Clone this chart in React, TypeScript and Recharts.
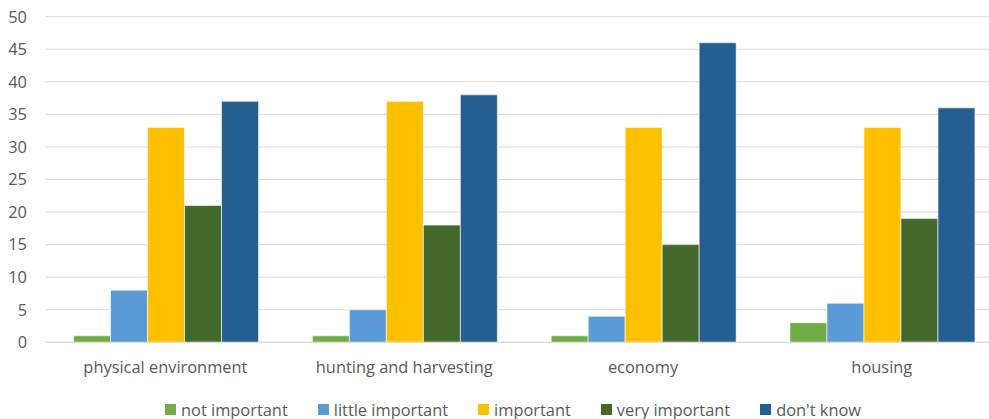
import React from "react";
import { BarChart, Bar, XAxis, YAxis, CartesianGrid, Legend } from "recharts";

const categories = ["physical environment", "hunting and harvesting", "economy", "housing"];
const notImportant = [1, 1, 1, 3];
const littleImportant = [8, 5, 4, 6];
const important = [33, 37, 33, 33];
const veryImportant = [21, 18, 15, 19];
const dontKnow = [37, 38, 46, 36];
const yTicks = [0, 5, 10, 15, 20, 25, 30, 35, 40, 45, 50];

const seriesDefs = [
  { key: "notImportant", name: "not important", color: "#70AD47" },
  { key: "littleImportant", name: "little important", color: "#5B9BD5" },
  { key: "important", name: "important", color: "#FFC000" },
  { key: "veryImportant", name: "very important", color: "#43682B" },
  { key: "dontKnow", name: "don't know", color: "#255E91" },
];

const data = categories.map((c, i) => ({
  category: c,
  notImportant: notImportant[i],
  littleImportant: littleImportant[i],
  important: important[i],
  veryImportant: veryImportant[i],
  dontKnow: dontKnow[i],
}));

const FONT = "'Open Sans', sans-serif";
const TEXT = "#595959";
const FS = 16.4;

const LegendContent = () => (
  <div
    style={{
      display: "flex",
      alignItems: "center",
      height: 20,
      paddingTop: 11,
      paddingLeft: 165,
      fontFamily: FONT,
      fontSize: FS,
      color: TEXT,
      whiteSpace: "nowrap",
    }}
  >
    {seriesDefs.map((s) => (
      <div key={s.key} style={{ display: "flex", alignItems: "center", marginRight: 30 }}>
        <span style={{ width: 11, height: 11, background: s.color, marginRight: 5, display: "inline-block" }} />
        <span>{s.name}</span>
      </div>
    ))}
  </div>
);

export default function App() {
  return (
    <div style={{ position: "absolute", left: 0, top: 0, width: 989, height: 419, overflow: "hidden", background: "#fff" }}>
      <BarChart
        width={1010}
        height={419}
        data={data}
        margin={{ top: 16.7, right: 8.8, bottom: 0, left: 0 }}
        barCategoryGap="11.54%"
        barGap={0}
      >
        <CartesianGrid horizontal vertical={false} stroke="#D9D9D9" strokeWidth={1} />
        <XAxis
          dataKey="category"
          height={45.7}
          tickSize={0}
          tickMargin={19.3}
          axisLine={{ stroke: "#D9D9D9", strokeWidth: 1 }}
          tickLine={false}
          tick={{ fill: TEXT, fontFamily: FONT, fontSize: FS }}
        />
        <YAxis
          width={46}
          domain={[0, 50]}
          ticks={yTicks}
          interval={0}
          tickSize={0}
          tickMargin={19}
          axisLine={false}
          tickLine={false}
          tick={{ fill: TEXT, fontFamily: FONT, fontSize: FS }}
        />
        <Legend
          verticalAlign="bottom"
          content={<LegendContent />}
          wrapperStyle={{ left: 0, width: 989, height: 31 }}
        />
        {seriesDefs.map((s) => (
          <Bar
            key={s.key}
            dataKey={s.key}
            name={s.name}
            fill={s.color}
            stroke="#FFFFFF"
            strokeWidth={0.6}
            isAnimationActive={false}
          />
        ))}
      </BarChart>
    </div>
  );
}
